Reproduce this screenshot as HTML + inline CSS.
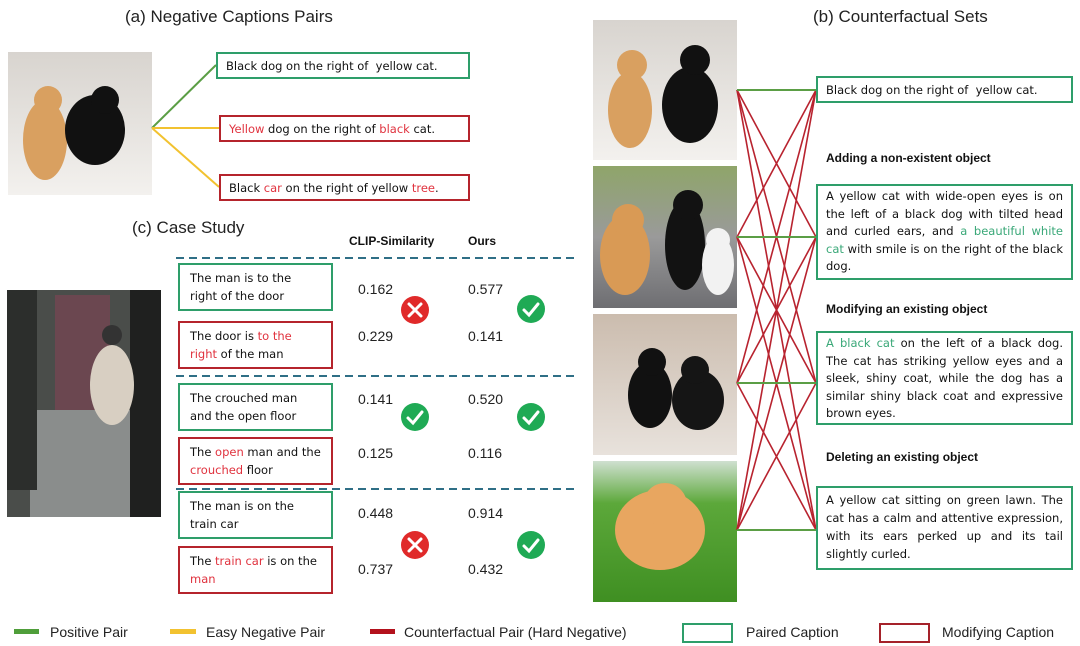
<!DOCTYPE html>
<html><head><meta charset="utf-8"><style>
body{margin:0;width:1080px;height:646px;background:#fff;position:relative;overflow:hidden;font-family:"Liberation Sans",sans-serif;}
.a{position:absolute;}
.t{font-size:16px;color:#222;}
.h{font-family:"DejaVu Sans",sans-serif;color:#111;font-size:11.5px;line-height:18px;}
.gb{border:2px solid #2e9e6a;box-sizing:border-box;}
.rb{border:2px solid #b5242c;box-sizing:border-box;}
.r{color:#e0323e}.g{color:#3aa878}
.n{font-size:14px;color:#222}
.b{font-weight:bold;font-size:12px;color:#111}
.lg{font-size:14px;color:#222;top:624px}
</style></head><body>
<svg class="a" style="left:0;top:0" width="1080" height="646">
<defs>
<linearGradient id="fl" x1="0" y1="0" x2="0" y2="1"><stop offset="0" stop-color="#d8d4cf"/><stop offset="1" stop-color="#f3f1ee"/></linearGradient>
<linearGradient id="gr" x1="0" y1="0" x2="0" y2="1"><stop offset="0" stop-color="#8fa56a"/><stop offset="0.5" stop-color="#9a9a9a"/><stop offset="1" stop-color="#6e6e72"/></linearGradient>
<linearGradient id="wd" x1="0" y1="0" x2="0" y2="1"><stop offset="0" stop-color="#cbbcae"/><stop offset="1" stop-color="#e8e2dc"/></linearGradient>
<linearGradient id="ln" x1="0" y1="0" x2="0" y2="1"><stop offset="0" stop-color="#cfe0d0"/><stop offset="0.3" stop-color="#5ca83a"/><stop offset="1" stop-color="#3f8f22"/></linearGradient>
</defs>
<rect x="8" y="52" width="144" height="143" fill="url(#fl)"/>
<ellipse cx="45" cy="140" rx="22" ry="40" fill="#d9a060"/><circle cx="48" cy="100" r="14" fill="#d9a060"/>
<ellipse cx="95" cy="130" rx="30" ry="35" fill="#111"/><circle cx="105" cy="100" r="14" fill="#111"/>
<line x1="152" y1="128" x2="216" y2="65" stroke="#5b9e45" stroke-width="2"/>
<line x1="152" y1="128" x2="219" y2="128" stroke="#f2c230" stroke-width="2"/>
<line x1="152" y1="128" x2="219" y2="187" stroke="#f2c230" stroke-width="2"/>
<rect x="7" y="290" width="154" height="227" fill="#4a4d4a"/>
<rect x="55" y="295" width="55" height="115" fill="#6b4750"/>
<rect x="30" y="410" width="110" height="107" fill="#8a8d8c"/>
<rect x="7" y="290" width="30" height="200" fill="#2c2e2c"/>
<rect x="130" y="290" width="31" height="227" fill="#1f201f"/>
<ellipse cx="112" cy="385" rx="22" ry="40" fill="#d8cfc2"/><circle cx="112" cy="335" r="10" fill="#333"/>
<g stroke="#2f6f86" stroke-width="2" stroke-dasharray="8,5">
<line x1="176" y1="258" x2="575" y2="258"/><line x1="176" y1="376" x2="575" y2="376"/><line x1="176" y1="489" x2="575" y2="489"/></g>
<g>
<circle cx="415" cy="310" r="14" fill="#e02a2a"/><circle cx="531" cy="309" r="14" fill="#1faa55"/>
<circle cx="415" cy="417" r="14" fill="#1faa55"/><circle cx="531" cy="417" r="14" fill="#1faa55"/>
<circle cx="415" cy="545" r="14" fill="#e02a2a"/><circle cx="531" cy="545" r="14" fill="#1faa55"/>
<g stroke="#fff" stroke-width="3" fill="none" stroke-linecap="round">
<path d="M409 304 L421 316 M421 304 L409 316"/><path d="M409 539 L421 551 M421 539 L409 551"/>
<path d="M524 310 L529 315 L538 304"/><path d="M408 418 L413 423 L422 412"/><path d="M524 418 L529 423 L538 412"/><path d="M524 546 L529 551 L538 540"/>
</g></g>
<rect x="593" y="20" width="144" height="140" fill="url(#fl)"/>
<ellipse cx="630" cy="110" rx="22" ry="38" fill="#d9a060"/><circle cx="632" cy="65" r="15" fill="#d9a060"/>
<ellipse cx="690" cy="105" rx="28" ry="38" fill="#111"/><circle cx="695" cy="60" r="15" fill="#111"/>
<rect x="593" y="166" width="144" height="142" fill="url(#gr)"/>
<ellipse cx="625" cy="255" rx="25" ry="40" fill="#d99a55"/><circle cx="628" cy="220" r="16" fill="#d99a55"/>
<ellipse cx="685" cy="245" rx="20" ry="45" fill="#121212"/><circle cx="688" cy="205" r="15" fill="#121212"/>
<ellipse cx="718" cy="265" rx="16" ry="30" fill="#f2f2f2"/><circle cx="718" cy="240" r="12" fill="#f2f2f2"/>
<rect x="593" y="314" width="144" height="141" fill="url(#wd)"/>
<ellipse cx="650" cy="395" rx="22" ry="33" fill="#111"/><circle cx="652" cy="362" r="14" fill="#111"/>
<ellipse cx="698" cy="400" rx="26" ry="30" fill="#151515"/><circle cx="695" cy="370" r="14" fill="#151515"/>
<rect x="593" y="461" width="144" height="141" fill="url(#ln)"/>
<ellipse cx="660" cy="530" rx="45" ry="40" fill="#e8a660"/><circle cx="665" cy="505" r="22" fill="#e8a660"/>
<g stroke="#b8232f" stroke-width="1.6">
<line x1="737" y1="90" x2="816" y2="237"/><line x1="737" y1="90" x2="816" y2="383"/><line x1="737" y1="90" x2="816" y2="530"/>
<line x1="737" y1="237" x2="816" y2="90"/><line x1="737" y1="237" x2="816" y2="383"/><line x1="737" y1="237" x2="816" y2="530"/>
<line x1="737" y1="383" x2="816" y2="90"/><line x1="737" y1="383" x2="816" y2="237"/><line x1="737" y1="383" x2="816" y2="530"/>
<line x1="737" y1="530" x2="816" y2="90"/><line x1="737" y1="530" x2="816" y2="237"/><line x1="737" y1="530" x2="816" y2="383"/>
</g>
<g stroke="#5b9e45" stroke-width="2">
<line x1="737" y1="90" x2="816" y2="90"/><line x1="737" y1="237" x2="816" y2="237"/><line x1="737" y1="383" x2="816" y2="383"/><line x1="737" y1="530" x2="816" y2="530"/></g>
<rect x="14" y="629" width="25" height="5" fill="#4f9e3a"/>
<rect x="170" y="629" width="26" height="5" fill="#f2c230"/>
<rect x="370" y="629" width="25" height="5" fill="#b3111c"/>
<rect x="683" y="624" width="49" height="18" fill="none" stroke="#2e9e6a" stroke-width="2"/>
<rect x="880" y="624" width="49" height="18" fill="none" stroke="#a5222a" stroke-width="2"/>
</svg>

<div class="a t" style="left:125px;top:7px;font-size:17px">(a) Negative Captions Pairs</div>
<div class="a gb h" style="left:216px;top:52px;width:254px;height:27px;padding:3px 8px">Black dog on the right of &nbsp;yellow cat.</div>
<div class="a rb h" style="left:219px;top:115px;width:251px;height:27px;padding:3px 8px"><span class="r">Yellow</span> dog on the right of <span class="r">black</span> cat.</div>
<div class="a rb h" style="left:219px;top:174px;width:251px;height:27px;padding:3px 8px">Black <span class="r">car</span> on the right of yellow <span class="r">tree</span>.</div>

<div class="a t" style="left:132px;top:218px;font-size:17px">(c) Case Study</div>
<div class="a b" style="left:349px;top:234px">CLIP-Similarity</div>
<div class="a b" style="left:468px;top:234px">Ours</div>
<div class="a gb h" style="left:178px;top:263px;width:155px;height:48px;padding:4px 10px">The man is to the right of the door</div>
<div class="a rb h" style="left:178px;top:321px;width:155px;height:48px;padding:4px 10px">The door is <span class="r">to the right</span> of the man</div>
<div class="a gb h" style="left:178px;top:383px;width:155px;height:48px;padding:4px 10px">The crouched man and the open floor</div>
<div class="a rb h" style="left:178px;top:437px;width:155px;height:48px;padding:4px 10px">The <span class="r">open</span> man and the <span class="r">crouched</span> floor</div>
<div class="a gb h" style="left:178px;top:491px;width:155px;height:48px;padding:4px 10px">The man is on the train car</div>
<div class="a rb h" style="left:178px;top:546px;width:155px;height:48px;padding:4px 10px">The <span class="r">train car</span> is on the <span class="r">man</span></div>
<div class="a n" style="left:358px;top:281px">0.162</div><div class="a n" style="left:468px;top:281px">0.577</div>
<div class="a n" style="left:358px;top:328px">0.229</div><div class="a n" style="left:468px;top:328px">0.141</div>
<div class="a n" style="left:358px;top:391px">0.141</div><div class="a n" style="left:468px;top:391px">0.520</div>
<div class="a n" style="left:358px;top:445px">0.125</div><div class="a n" style="left:468px;top:445px">0.116</div>
<div class="a n" style="left:358px;top:505px">0.448</div><div class="a n" style="left:468px;top:505px">0.914</div>
<div class="a n" style="left:358px;top:561px">0.737</div><div class="a n" style="left:468px;top:561px">0.432</div>

<div class="a t" style="left:813px;top:7px;font-size:17px">(b) Counterfactual Sets</div>
<div class="a gb h" style="left:816px;top:76px;width:257px;height:27px;padding:3px 8px">Black dog on the right of &nbsp;yellow cat.</div>
<div class="a b" style="left:826px;top:151px">Adding a non-existent object</div>
<div class="a gb h" style="left:816px;top:184px;width:257px;height:96px;padding:2px 8px;line-height:17.5px;text-align:justify">A yellow cat with wide-open eyes is on the left of a black dog with tilted head and curled ears, and <span class="g">a beautiful white cat</span> with smile is on the right of the black dog.</div>
<div class="a b" style="left:826px;top:302px">Modifying an existing object</div>
<div class="a gb h" style="left:816px;top:331px;width:257px;height:94px;padding:2px 8px;line-height:17.5px;text-align:justify"><span class="g">A black cat</span> on the left of a black dog. The cat has striking yellow eyes and a sleek, shiny coat, while the dog has a similar shiny black coat and expressive brown eyes.</div>
<div class="a b" style="left:826px;top:450px">Deleting an existing object</div>
<div class="a gb h" style="left:816px;top:486px;width:257px;height:84px;padding:3px 8px;line-height:18px;text-align:justify">A yellow cat sitting on green lawn. The cat has a calm and attentive expression, with its ears perked up and its tail slightly curled.</div>

<div class="a lg" style="left:50px">Positive Pair</div>
<div class="a lg" style="left:206px">Easy Negative Pair</div>
<div class="a lg" style="left:404px">Counterfactual Pair (Hard Negative)</div>
<div class="a lg" style="left:746px">Paired Caption</div>
<div class="a lg" style="left:942px">Modifying Caption</div>
</body></html>
